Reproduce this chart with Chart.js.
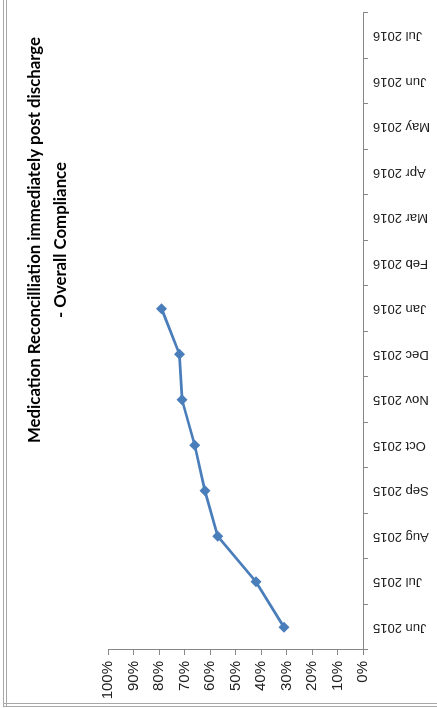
<!DOCTYPE html>
<html>
<head>
<meta charset="utf-8">
<script src="https://cdn.jsdelivr.net/npm/chart.js@4/dist/chart.umd.min.js"></script>
<style>
  html, body { margin: 0; padding: 0; background: #fff; overflow: hidden; width: 437px; height: 708px; }
  #rot { position: absolute; left: 0; top: 0; width: 928px; height: 437px;
         transform-origin: 0 0; transform: translate(0px, 708px) rotate(-90deg); }
  #frameV { position: absolute; left: 3px; top: 0; width: 0; height: 706px; border-left: 4px double #a8a8a8; }
  #frameH { position: absolute; left: 3px; top: 703px; width: 434px; height: 0; border-top: 4px double #a8a8a8; }
</style>
</head>
<body>
<div id="rot"><canvas id="c" width="928" height="437"></canvas></div>
<div id="frameV"></div>
<div id="frameH"></div>
<script>
const titleLines = ["Medication Reconcilliation immediately post discharge", "- Overall Compliance"];
const categories = ["Jun 2015","Jul 2015","Aug 2015","Sep 2015","Oct 2015","Nov 2015","Dec 2015",
                    "Jan 2016","Feb 2016","Mar 2016","Apr 2016","May 2016","Jun 2016","Jul 2016"];
const compliance = [31, 42, 57, 62, 66, 71, 72, 79, null, null, null, null, null, null];
const percentTicks = [0, 10, 20, 30, 40, 50, 60, 70, 80, 90, 100];

const axisColor = '#868686';
new Chart(document.getElementById('c'), {
  type: 'line',
  data: {
    labels: categories,
    datasets: [{
      label: 'Overall Compliance',
      data: compliance,
      borderColor: '#4A7EBB',
      backgroundColor: '#4A7EBB',
      borderWidth: 2.75,
      pointStyle: 'rectRot',
      pointRadius: 5.5,
      pointHoverRadius: 5.5,
      pointBorderWidth: 0,
      tension: 0,
      spanGaps: false
    }]
  },
  options: {
    responsive: false,
    animation: false,
    devicePixelRatio: 1,
    layout: { padding: { left: 8, right: 0, top: 0, bottom: 0 } },
    plugins: {
      legend: { display: false },
      tooltip: { enabled: false },
      title: {
        display: true,
        text: titleLines,
        color: '#000',
        font: { family: 'Lato', size: 16.8, weight: 'bold', lineHeight: 1.55 },
        padding: { top: 22, bottom: 34 }
      }
    },
    scales: {
      x: {
        type: 'category',
        offset: true,
        grid: { display: true, offset: true, drawOnChartArea: false, tickLength: 5, color: axisColor },
        border: { display: true, color: axisColor, width: 1 },
        ticks: { minRotation: 90, maxRotation: 90, autoSkip: false, padding: 5, color: '#222',
                 font: { family: 'Liberation Sans', size: 13 } },
        afterFit: s => { s.height = 74; }
      },
      y: {
        min: 0, max: 100,
        afterBuildTicks: s => { s.ticks = percentTicks.map(v => ({ value: v })); },
        grid: { display: true, drawOnChartArea: false, tickLength: 5, color: axisColor },
        border: { display: true, color: axisColor, width: 1 },
        ticks: { padding: 6, color: '#222', font: { family: 'Liberation Sans', size: 15 },
                 callback: v => v + '%' },
        afterFit: s => { s.width = 50; }
      },
      yRightSpace: {
        type: 'linear',
        position: 'right',
        display: true,
        grid: { display: false },
        border: { display: false },
        ticks: { display: false },
        afterFit: s => { s.width = 233; }
      }
    }
  }
});
</script>
</body>
</html>
